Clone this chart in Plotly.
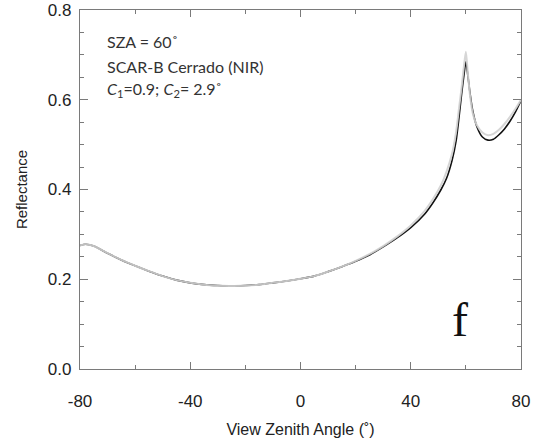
import plotly.graph_objects as go

# View zenith angle (degrees)
vza = [-80, -78, -75, -70, -65, -60, -55, -50, -45, -40, -35, -30, -25, -20,
       -15, -10, -5, 0, 5, 10, 15, 20, 25, 30, 35, 40, 45, 48, 51, 53, 55,
       56.5, 57.5, 58.5, 59.3, 60, 60.7, 61.5, 62.5, 64, 66, 68, 70, 72, 74,
       76, 78, 80]

# Modelled reflectance (dark curve)
refl_model = [0.275, 0.278, 0.274, 0.258, 0.243, 0.230, 0.218, 0.207, 0.198,
              0.192, 0.188, 0.186, 0.185, 0.186, 0.188, 0.192, 0.196, 0.201,
              0.207, 0.217, 0.228, 0.240, 0.254, 0.272, 0.292, 0.315, 0.345,
              0.370, 0.400, 0.425, 0.465, 0.510, 0.560, 0.615, 0.655, 0.685,
              0.655, 0.615, 0.575, 0.540, 0.517, 0.510, 0.512, 0.522, 0.535,
              0.552, 0.573, 0.598]

# Reference reflectance (light curve)
refl_ref = [0.275, 0.278, 0.274, 0.258, 0.243, 0.230, 0.218, 0.207, 0.198,
            0.192, 0.188, 0.186, 0.185, 0.186, 0.188, 0.192, 0.196, 0.201,
            0.207, 0.217, 0.228, 0.241, 0.256, 0.274, 0.295, 0.320, 0.352,
            0.378, 0.410, 0.440, 0.480, 0.530, 0.580, 0.630, 0.675, 0.707,
            0.660, 0.610, 0.570, 0.543, 0.527, 0.521, 0.524, 0.533, 0.546,
            0.562, 0.580, 0.600]

x_ticks = [-80, -40, 0, 40, 80]
x_tick_labels = ["-80", "-40", "0", "40", "80"]
y_ticks = [0.0, 0.2, 0.4, 0.6, 0.8]
y_tick_labels = ["0.0", "0.2", "0.4", "0.6", "0.8"]

fig = go.Figure()
fig.add_trace(go.Scatter(x=vza, y=refl_model, mode="lines",
                         line=dict(color="#111111", width=1.6, shape="spline", smoothing=0.6),
                         showlegend=False))
fig.add_trace(go.Scatter(x=vza, y=refl_ref, mode="lines",
                         line=dict(color="#d2d2d2", width=2.0, shape="spline", smoothing=0.6),
                         opacity=0.9, showlegend=False))

axis_common = dict(showline=True, linecolor="#7a7a7a", linewidth=1.2, mirror="allticks",
                   ticks="inside", tickcolor="#7a7a7a", showgrid=False, zeroline=False,
                   automargin=False,
                   tickfont=dict(family="Liberation Sans", size=17, color="#222222"))

fig.update_xaxes(range=[-80, 80], tickvals=x_ticks, ticktext=x_tick_labels,
                 ticklen=7, tickwidth=1.2, ticklabelstandoff=16,
                 minor=dict(dtick=20, tick0=0, ticks="inside", ticklen=4, tickcolor="#7a7a7a"),
                 title=dict(text="View Zenith Angle (˚)", standoff=14,
                            font=dict(family="Liberation Sans", size=16, color="#222222")),
                 **axis_common)
fig.update_yaxes(range=[0, 0.8], tickvals=y_ticks, ticktext=y_tick_labels,
                 ticklen=8, tickwidth=1.2, ticklabelstandoff=4,
                 minor=dict(dtick=0.05, tick0=0, ticks="inside", ticklen=4, tickcolor="#7a7a7a"),
                 title=dict(text="Reflectance", standoff=16,
                            font=dict(family="Liberation Sans", size=15, color="#222222")),
                 **axis_common)

ann_font = dict(family="Lato", size=16, color="#333333")
for yv, txt in [(0.73, "SZA = 60˚"),
                (0.675, "SCAR-B Cerrado (NIR)"),
                (0.622, "<i>C</i><sub>1</sub>=0.9; <i>C</i><sub>2</sub>= 2.9˚")]:
    fig.add_annotation(x=-71, y=yv, xref="x", yref="y", text=txt, showarrow=False,
                       xanchor="left", yanchor="middle", font=ann_font)

fig.add_annotation(x=58, y=0.11, xref="x", yref="y", text="f", showarrow=False,
                   xanchor="center", yanchor="middle",
                   font=dict(family="Liberation Serif", size=48, color="#111111"))

fig.update_layout(width=536, height=446, paper_bgcolor="white", plot_bgcolor="white",
                  margin=dict(l=80, r=15, t=10, b=77))

fig.write_html("out.html")
